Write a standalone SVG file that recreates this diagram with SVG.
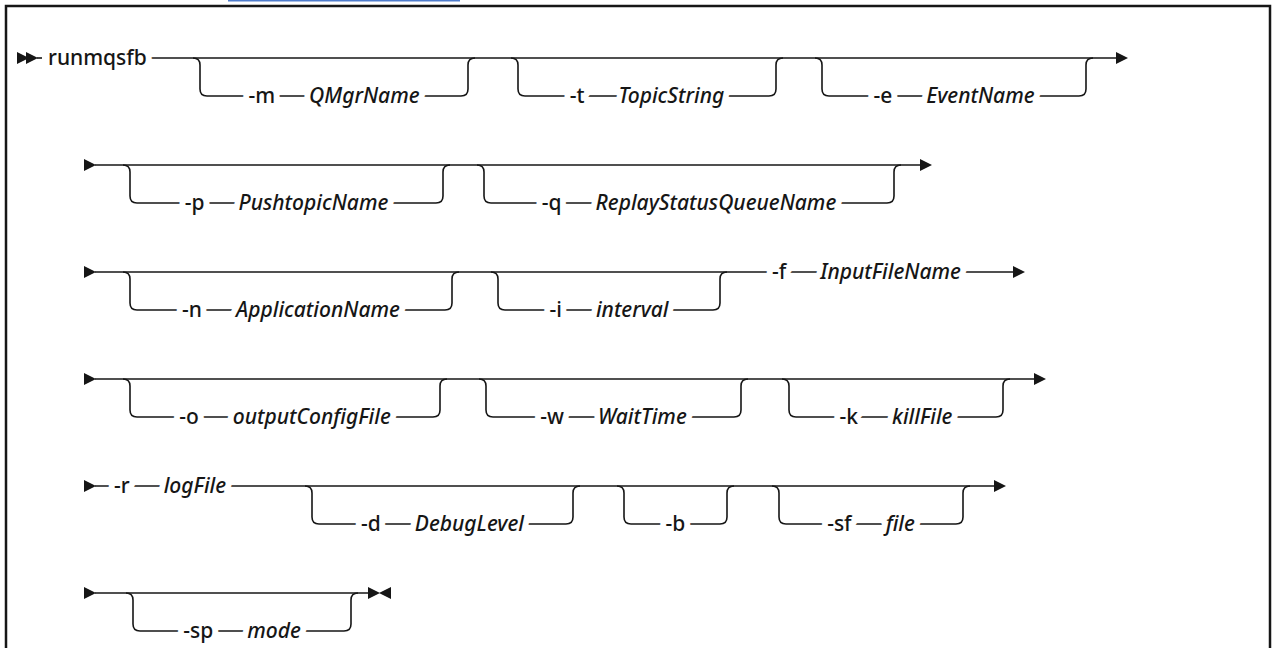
<svg xmlns="http://www.w3.org/2000/svg" width="1275" height="648" viewBox="0 0 1275 648">
<style>
.ln{fill:none;stroke:#161616;stroke-width:1.6}
.ah{fill:#161616}
.box{fill:none;stroke:#161616;stroke-width:2.5}
text{font-family:"Noto Sans","Liberation Sans",sans-serif;font-size:21px;font-weight:500;fill:#161616}
.h{stroke:#fff;stroke-width:12;stroke-linejoin:round;paint-order:stroke}
.v{font-style:italic}
</style>
<defs>
<path id="ar" class="ah" d="M0,-6 L12,0 L0,6 Z"/>
<path id="al" class="ah" d="M12,-6 L0,0 L12,6 Z"/>
</defs>
<rect x="228" y="0" width="232" height="1.5" fill="#4f7ccc"/>
<rect class="box" x="6" y="6" width="1264" height="700"/>

<g id="connectors">
<!-- row 1 -->
<use href="#ar" x="17" y="58"/><use href="#ar" x="26" y="58"/>
<line class="ln" x1="37" y1="58" x2="42" y2="58"/>
<line class="ln" x1="124" y1="58" x2="1117" y2="58"/>
<use href="#ar" x="1116" y="58"/>
<!-- row 2 -->
<use href="#ar" x="84" y="165"/>
<line class="ln" x1="95" y1="165" x2="921" y2="165"/>
<use href="#ar" x="920" y="165"/>
<!-- row 3 -->
<use href="#ar" x="84" y="272"/>
<line class="ln" x1="95" y1="272" x2="1014" y2="272"/>
<use href="#ar" x="1013" y="272"/>
<!-- row 4 -->
<use href="#ar" x="84" y="379"/>
<line class="ln" x1="95" y1="379" x2="1035" y2="379"/>
<use href="#ar" x="1034" y="379"/>
<!-- row 5 -->
<use href="#ar" x="84" y="486"/>
<line class="ln" x1="95" y1="486" x2="995" y2="486"/>
<use href="#ar" x="994" y="486"/>
<!-- row 6 -->
<use href="#ar" x="84" y="593"/>
<line class="ln" x1="95" y1="593" x2="370" y2="593"/>
<use href="#ar" x="368" y="593"/><use href="#al" x="379" y="593"/>
</g>

<g id="cmd"><text class="h" x="48" y="65">runmqsfb</text></g>

<g id="opt-m"><path class="ln" d="M193,58 Q200,58 200,65 V89 Q200,96 207,96 H461 Q468,96 468,89 V65 Q468,58 475,58"/>
<text class="h" x="334" y="103" text-anchor="middle">-m<tspan class="v" dx="34">QMgrName</tspan></text></g>
<g id="opt-t"><path class="ln" d="M511,58 Q518,58 518,65 V89 Q518,96 525,96 H769 Q776,96 776,89 V65 Q776,58 783,58"/>
<text class="h" x="647" y="103" text-anchor="middle">-t<tspan class="v" dx="34">TopicString</tspan></text></g>
<g id="opt-e"><path class="ln" d="M815,58 Q822,58 822,65 V89 Q822,96 829,96 H1079 Q1086,96 1086,89 V65 Q1086,58 1093,58"/>
<text class="h" x="954" y="103" text-anchor="middle">-e<tspan class="v" dx="34">EventName</tspan></text></g>

<g id="opt-p"><path class="ln" d="M123,165 Q130,165 130,172 V196 Q130,203 137,203 H436 Q443,203 443,196 V172 Q443,165 450,165"/>
<text class="h" x="286.5" y="210" text-anchor="middle">-p<tspan class="v" dx="34">PushtopicName</tspan></text></g>
<g id="opt-q"><path class="ln" d="M477,165 Q484,165 484,172 V196 Q484,203 491,203 H887 Q894,203 894,196 V172 Q894,165 901,165"/>
<text class="h" x="689" y="210" text-anchor="middle">-q<tspan class="v" dx="34">ReplayStatusQueueName</tspan></text></g>

<g id="opt-n"><path class="ln" d="M123,272 Q130,272 130,279 V303 Q130,310 137,310 H445 Q452,310 452,303 V279 Q452,272 459,272"/>
<text class="h" x="291" y="317" text-anchor="middle">-n<tspan class="v" dx="34">ApplicationName</tspan></text></g>
<g id="opt-i"><path class="ln" d="M491,272 Q498,272 498,279 V303 Q498,310 505,310 H713 Q720,310 720,303 V279 Q720,272 727,272"/>
<text class="h" x="609" y="317" text-anchor="middle">-i<tspan class="v" dx="34">interval</tspan></text></g>
<g id="req-f"><text class="h" x="772" y="279">-f<tspan class="v" dx="34">InputFileName</tspan></text></g>

<g id="opt-o"><path class="ln" d="M123,379 Q130,379 130,386 V410 Q130,417 137,417 H433 Q440,417 440,410 V386 Q440,379 447,379"/>
<text class="h" x="285" y="424" text-anchor="middle">-o<tspan class="v" dx="34">outputConfigFile</tspan></text></g>
<g id="opt-w"><path class="ln" d="M479,379 Q486,379 486,386 V410 Q486,417 493,417 H734 Q741,417 741,410 V386 Q741,379 748,379"/>
<text class="h" x="613.5" y="424" text-anchor="middle">-w<tspan class="v" dx="34">WaitTime</tspan></text></g>
<g id="opt-k"><path class="ln" d="M782,379 Q789,379 789,386 V410 Q789,417 796,417 H996 Q1003,417 1003,410 V386 Q1003,379 1010,379"/>
<text class="h" x="896" y="424" text-anchor="middle">-k<tspan class="v" dx="34">killFile</tspan></text></g>

<g id="req-r"><text class="h" x="114" y="493">-r<tspan class="v" dx="34">logFile</tspan></text></g>
<g id="opt-d"><path class="ln" d="M305,486 Q312,486 312,493 V517 Q312,524 319,524 H566 Q573,524 573,517 V493 Q573,486 580,486"/>
<text class="h" x="442.5" y="531" text-anchor="middle">-d<tspan class="v" dx="34">DebugLevel</tspan></text></g>
<g id="opt-b"><path class="ln" d="M617,486 Q624,486 624,493 V517 Q624,524 631,524 H720 Q727,524 727,517 V493 Q727,486 734,486"/>
<text class="h" x="675.5" y="531" text-anchor="middle">-b</text></g>
<g id="opt-sf"><path class="ln" d="M772,486 Q779,486 779,493 V517 Q779,524 786,524 H956 Q963,524 963,517 V493 Q963,486 970,486"/>
<text class="h" x="871" y="531" text-anchor="middle">-sf<tspan class="v" dx="34">file</tspan></text></g>

<g id="opt-sp"><path class="ln" d="M126,593 Q133,593 133,600 V624 Q133,631 140,631 H344 Q351,631 351,624 V600 Q351,593 358,593"/>
<text class="h" x="242" y="638" text-anchor="middle">-sp<tspan class="v" dx="34">mode</tspan></text></g>
</svg>
